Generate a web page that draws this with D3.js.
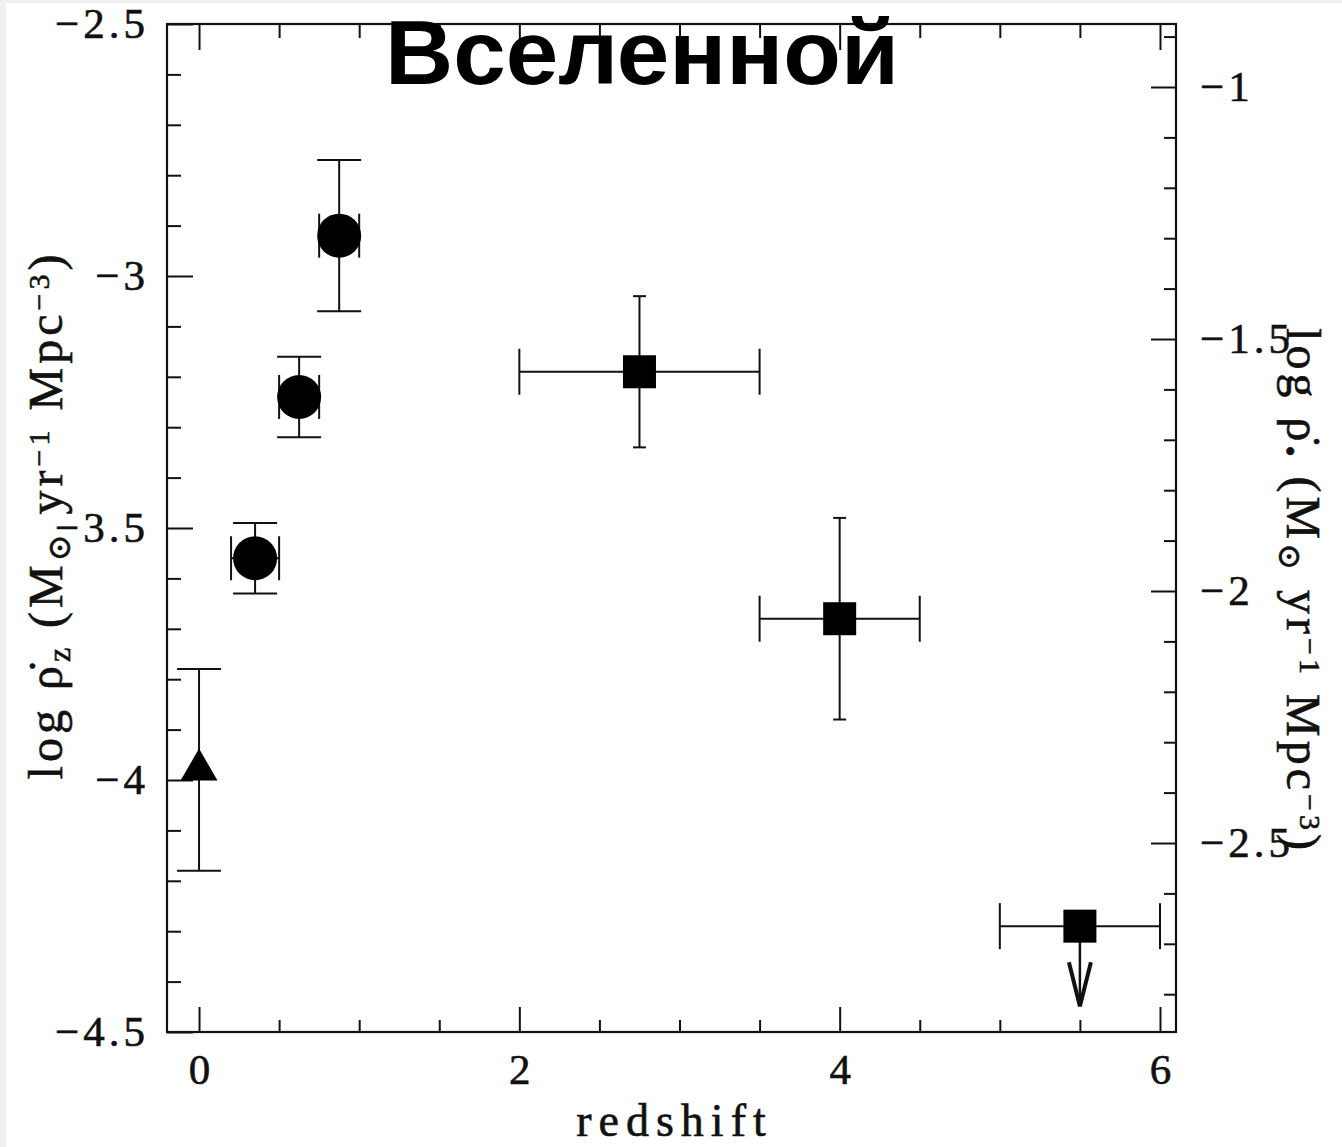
<!DOCTYPE html>
<html><head><meta charset="utf-8">
<script src="https://cdn.jsdelivr.net/npm/d3@7"></script>
<style>
html,body{margin:0;padding:0;background:#f0f0f0;}
svg{display:block}
</style></head><body>
<svg id="chart" width="1342" height="1147"></svg>
<script>
// Local H-alpha survey (z = 0)
const localZ = [0];
const localLog = [-3.98];
const localLogLow = [-4.18];
const localLogHigh = [-3.78];

// CFRS redshift bins
const cfrsZ = [0.35, 0.625, 0.875];
const cfrsZLow = [0.2, 0.5, 0.75];
const cfrsZHigh = [0.5, 0.75, 1.0];
const cfrsLog = [-3.56, -3.24, -2.92];
const cfrsLogLow = [-3.63, -3.32, -3.07];
const cfrsLogHigh = [-3.49, -3.16, -2.77];

// HDF dropout samples (last one is an upper limit)
const hdfZ = [2.75, 4.0, 5.5];
const hdfZLow = [2.0, 3.5, 5.0];
const hdfZHigh = [3.5, 4.5, 6.0];
const hdfLog = [-3.19, -3.68, -4.29];
const hdfLogLow = [-3.34, -3.88, null];
const hdfLogHigh = [-3.04, -3.48, null];
const hdfUpperLimit = [false, false, true];

// Axis ticks
const xTicks = [0, 2, 4, 6];
const xTickLabels = ["0", "2", "4", "6"];
const yTicks = [-2.5, -3, -3.5, -4, -4.5];
const yTickLabels = ["\u22122.5", "\u22123", "\u22123.5", "\u22124", "\u22124.5"];
const y2Ticks = [-1, -1.5, -2, -2.5];
const y2TickLabels = ["\u22121", "\u22121.5", "\u22122", "\u22122.5"];
const y2Offset = 1.625; // right axis: log rho* = log rho_z + offset

const titleText = "Вселенной";
const xTitle = "redshift";

const W = 1342, H = 1147;
const frame = {left: 167, right: 1176, top: 24, bottom: 1032};
const ink = "#111";
const serif = "'Liberation Serif', 'DejaVu Serif', serif";

const svg = d3.select("#chart");
svg.append("rect").attr("x", 6).attr("y", 3).attr("width", W - 6).attr("height", H - 3).attr("fill", "#fff");

const x = d3.scaleLinear().domain([-0.2, 6.1]).range([frame.left, frame.right]);
const y = d3.scaleLinear().domain([-4.5, -2.5]).range([frame.bottom, frame.top]);
const y2 = d3.scaleLinear().domain([-4.5 + y2Offset, -2.5 + y2Offset]).range([frame.bottom, frame.top]);

// minor tick positions
const xMinor = d3.range(0, 6.001, 0.5).filter(v => Math.abs(v / 2 - Math.round(v / 2)) > 1e-6);
const yMinor = d3.range(-4.5, -2.499, 0.1).filter(v => Math.abs(v * 2 - Math.round(v * 2)) > 1e-6);
const y2Minor = d3.range(-2.8, -0.899, 0.1).filter(v => Math.abs(v * 2 - Math.round(v * 2)) > 1e-6);

function styleAxis(g) {
  g.select(".domain").remove();
  g.selectAll(".tick line").attr("stroke", ink).attr("stroke-width", 2);
  g.selectAll(".tick text").attr("fill", ink).attr("font-family", serif)
    .attr("font-size", 43).attr("letter-spacing", 4)
    .attr("stroke", ink).attr("stroke-width", 0.6);
}

// bottom
svg.append("g").attr("transform", `translate(0,${frame.bottom})`)
  .call(d3.axisBottom(x).tickValues(xTicks).tickSize(-25).tickPadding(21)
    .tickFormat((d, i) => xTickLabels[i]))
  .call(styleAxis)
  .call(g => g.selectAll(".tick text").attr("dx", 2));
svg.append("g").attr("transform", `translate(0,${frame.bottom})`)
  .call(d3.axisBottom(x).tickValues(xMinor).tickSize(-12).tickFormat(""))
  .call(styleAxis);
// top
svg.append("g").attr("transform", `translate(0,${frame.top})`)
  .call(d3.axisTop(x).tickValues(xTicks).tickSize(-26).tickFormat(""))
  .call(styleAxis);
svg.append("g").attr("transform", `translate(0,${frame.top})`)
  .call(d3.axisTop(x).tickValues(xMinor).tickSize(-14).tickFormat(""))
  .call(styleAxis);
// left
svg.append("g").attr("transform", `translate(${frame.left},0)`)
  .call(d3.axisLeft(y).tickValues(yTicks).tickSize(-26).tickPadding(18)
    .tickFormat((d, i) => yTickLabels[i]))
  .call(styleAxis);
svg.append("g").attr("transform", `translate(${frame.left},0)`)
  .call(d3.axisLeft(y).tickValues(yMinor).tickSize(-14).tickFormat(""))
  .call(styleAxis);
// right
svg.append("g").attr("transform", `translate(${frame.right},0)`)
  .call(d3.axisRight(y2).tickValues(y2Ticks).tickSize(-25).tickPadding(24)
    .tickFormat((d, i) => y2TickLabels[i]))
  .call(styleAxis);
svg.append("g").attr("transform", `translate(${frame.right},0)`)
  .call(d3.axisRight(y2).tickValues(y2Minor).tickSize(-12).tickFormat(""))
  .call(styleAxis);

// frame
svg.append("rect").attr("x", frame.left).attr("y", frame.top)
  .attr("width", frame.right - frame.left).attr("height", frame.bottom - frame.top)
  .attr("fill", "none").attr("stroke", ink).attr("stroke-width", 2.2);

// axis titles
svg.append("text").attr("x", (frame.left + frame.right) / 2 + 3).attr("y", 1136)
  .attr("text-anchor", "middle").attr("font-family", serif).attr("font-size", 46)
  .attr("letter-spacing", 7).attr("fill", ink).attr("stroke", ink).attr("stroke-width", 0.6)
  .text(xTitle);

function rateLabel(g, sub) {
  const t = g.append("text").attr("text-anchor", "middle").attr("font-family", serif)
    .attr("font-size", 48).attr("letter-spacing", 4).attr("fill", ink)
    .attr("stroke", ink).attr("stroke-width", 0.6);
  t.append("tspan").text("log \u03C1\u0307");
  t.append("tspan").attr("baseline-shift", "-25%").attr("font-size", 32).text(sub);
  t.append("tspan").text(" (M");
  t.append("tspan").attr("baseline-shift", "-25%").attr("font-size", 32).text("\u2299");
  t.append("tspan").text(" yr");
  t.append("tspan").attr("baseline-shift", "45%").attr("font-size", 30).text("\u22121");
  t.append("tspan").text(" Mpc");
  t.append("tspan").attr("baseline-shift", "45%").attr("font-size", 30).text("\u22123");
  t.append("tspan").text(")");
  return t;
}
rateLabel(svg.append("g").attr("transform", "translate(62,515) rotate(-90)"), "z");
rateLabel(svg.append("g").attr("transform", "translate(1287,591) rotate(90)"), "\u2022");

// title
svg.append("text").attr("x", 642).attr("y", 84).attr("text-anchor", "middle")
  .attr("font-family", "'Liberation Sans', Arial, sans-serif").attr("font-weight", "bold")
  .attr("font-size", 90).attr("textLength", 514).attr("lengthAdjust", "spacingAndGlyphs")
  .attr("fill", "#000").text(titleText);

// error bars
const marks = svg.append("g");
function vErr(xv, lo, hi, capHalf) {
  marks.append("line").attr("x1", x(xv)).attr("x2", x(xv)).attr("y1", y(lo)).attr("y2", y(hi))
    .attr("stroke", ink).attr("stroke-width", 2);
  [lo, hi].forEach(v => marks.append("line").attr("x1", x(xv) - capHalf).attr("x2", x(xv) + capHalf)
    .attr("y1", y(v)).attr("y2", y(v)).attr("stroke", ink).attr("stroke-width", 2));
}
function hErr(yv, lo, hi, capHalf) {
  marks.append("line").attr("x1", x(lo)).attr("x2", x(hi)).attr("y1", y(yv)).attr("y2", y(yv))
    .attr("stroke", ink).attr("stroke-width", 2);
  [lo, hi].forEach(v => marks.append("line").attr("x1", x(v)).attr("x2", x(v))
    .attr("y1", y(yv) - capHalf).attr("y2", y(yv) + capHalf).attr("stroke", ink).attr("stroke-width", 2));
}

// local point: triangle
localZ.forEach((z, i) => {
  vErr(z, localLogLow[i], localLogHigh[i], 22);
  marks.append("path").attr("transform", `translate(${x(z)},${y(localLog[i])})`)
    .attr("d", d3.symbol(d3.symbolTriangle, 591)()).attr("fill", "#000");
});

// CFRS: filled circles
cfrsZ.forEach((z, i) => {
  vErr(z, cfrsLogLow[i], cfrsLogHigh[i], 22);
  hErr(cfrsLog[i], cfrsZLow[i], cfrsZHigh[i], 22);
  marks.append("circle").attr("cx", x(z)).attr("cy", y(cfrsLog[i])).attr("r", 22).attr("fill", "#000");
});

// HDF: filled squares
hdfZ.forEach((z, i) => {
  hErr(hdfLog[i], hdfZLow[i], hdfZHigh[i], 23);
  if (hdfUpperLimit[i]) {
    const cx = x(z), cy = y(hdfLog[i]);
    marks.append("line").attr("x1", cx).attr("x2", cx).attr("y1", cy).attr("y2", cy + 80)
      .attr("stroke", ink).attr("stroke-width", 2.5);
    marks.append("path").attr("d", `M${cx - 11},${cy + 36}L${cx},${cy + 80}L${cx + 11},${cy + 36}`)
      .attr("fill", "none").attr("stroke", ink).attr("stroke-width", 4);
  } else {
    vErr(z, hdfLogLow[i], hdfLogHigh[i], 6.5);
  }
  marks.append("rect").attr("x", x(z) - 16.5).attr("y", y(hdfLog[i]) - 16.5)
    .attr("width", 33).attr("height", 33).attr("fill", "#000");
});
</script>
</body></html>
